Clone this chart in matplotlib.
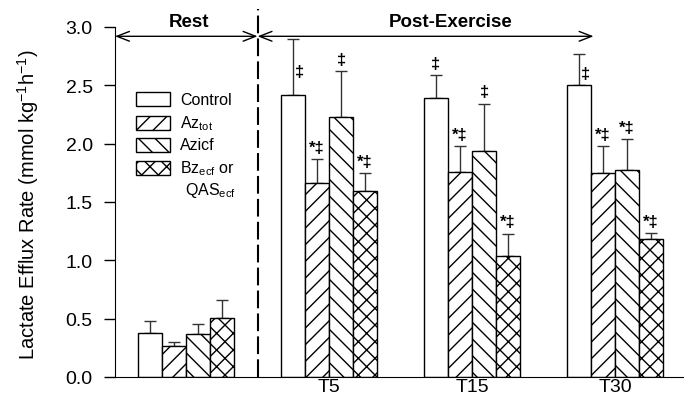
import matplotlib
matplotlib.use("Agg")
import matplotlib.pyplot as plt
from matplotlib.patches import Rectangle
import numpy as np

plt.rcParams['font.family'] = ['Liberation Sans', 'DejaVu Sans']
plt.rcParams['mathtext.fontset'] = 'custom'
plt.rcParams['mathtext.rm'] = 'Liberation Sans'
plt.rcParams['mathtext.it'] = 'Liberation Sans:italic'
plt.rcParams['mathtext.bf'] = 'Liberation Sans:bold'
plt.rcParams['hatch.linewidth'] = 1.0

# data
groups = ['', 'T5', 'T15', 'T30']          # first group is "Rest"
series_names = ['Control', 'Az$_{\\mathrm{tot}}$', 'Azicf', 'Bz$_{\\mathrm{ecf}}$ or']
control = [0.375, 2.42, 2.39, 2.505]
control_err = [0.105, 0.48, 0.20, 0.265]
az_tot = [0.265, 1.66, 1.754, 1.745]
az_tot_err = [0.035, 0.21, 0.225, 0.235]
azicf = [0.368, 2.225, 1.934, 1.77]
azicf_err = [0.09, 0.395, 0.41, 0.27]
bz_ecf = [0.508, 1.59, 1.034, 1.18]
bz_ecf_err = [0.15, 0.155, 0.195, 0.05]
marks = [
    ['', '\u2021', '\u2021', '\u2021'],
    ['', '*\u2021', '*\u2021', '*\u2021'],
    ['', '\u2021', '\u2021', '*\u2021'],
    ['', '*\u2021', '*\u2021', '*\u2021'],
]

values = [control, az_tot, azicf, bz_ecf]
errors = [control_err, az_tot_err, azicf_err, bz_ecf_err]
hatches = ['', '//', '\\\\', 'xx']

fig = plt.figure(figsize=(6.88, 4.02), dpi=100)
ax = fig.add_axes([115 / 688, 24 / 402, 568 / 688, 368 / 402])

width = 0.168
xg = np.arange(len(groups))
for i, (vals, errs, h) in enumerate(zip(values, errors, hatches)):
    xs = xg + (i - 1.5) * width
    ax.bar(xs, vals, width, color='white', edgecolor='black', linewidth=1.0,
           hatch=h, zorder=2)
    ax.errorbar(xs, vals, yerr=[np.zeros(len(errs)), errs], fmt='none',
                ecolor='#333333', elinewidth=1.0, capsize=4, capthick=1.0,
                zorder=1)
    for x, v, e, m in zip(xs, vals, errs, marks[i]):
        if not m:
            continue
        top = v + e
        if top + 0.1 > 2.8:
            # too close to the arrow: put it beside the error bar
            ax.text(x + 0.015, (v + top) / 2 - 0.04, m, ha='left',
                    va='center', fontsize=12, fontweight='bold')
        else:
            ax.text(x, top + 0.1, m, ha='center', va='center', fontsize=12,
                    fontweight='bold')

# rest / post-exercise separator and arrows
ax.plot([0.5, 0.5], [0, 3.154], color='black', lw=1.5,
        linestyle=(0, (8.5, 2.5)), clip_on=False, zorder=3)
arrow = dict(arrowstyle='<->,head_length=0.9,head_width=0.35', lw=1.0,
             color='black', shrinkA=0, shrinkB=0, mutation_scale=10)
ax.annotate('', xy=(-0.497, 2.92), xytext=(0.5, 2.92), arrowprops=arrow,
            annotation_clip=False)
ax.annotate('', xy=(0.5, 2.92), xytext=(2.85, 2.92), arrowprops=arrow,
            annotation_clip=False)
ax.text(0.02, 3.05, 'Rest', ha='center', va='center', fontsize=13.5,
        fontweight='bold')
ax.text(1.85, 3.05, 'Post-Exercise', ha='center', va='center', fontsize=13.5,
        fontweight='bold')

# hand-made legend
leg_x, leg_w, leg_h = -0.35, 0.238, 0.12
leg_rows = [2.32, 2.12, 1.93, 1.73]
for name, h, y in zip(series_names, hatches, leg_rows):
    ax.add_patch(Rectangle((leg_x, y), leg_w, leg_h, facecolor='white',
                           edgecolor='black', lw=1.0, hatch=h, zorder=2))
    ax.text(-0.04, y + leg_h / 2, name, ha='left', va='center', fontsize=11.5)
ax.text(-0.005, 1.61, 'QAS$_{\\mathrm{ecf}}$', ha='left', va='center',
        fontsize=11.5)

ax.set_xlim(-0.497, 3.4755)
ax.set_ylim(0, 3.154)
ax.set_yticks(np.arange(0, 3.01, 0.5))
ax.set_yticklabels(['%.1f' % t for t in np.arange(0, 3.01, 0.5)])
ax.set_xticks(xg)
ax.set_xticklabels(groups)
ax.tick_params(axis='y', length=8, width=1, pad=8, labelsize=14)
ax.tick_params(axis='x', length=0, pad=1, labelsize=14)
ax.spines['top'].set_visible(False)
ax.spines['right'].set_visible(False)
ax.spines['left'].set_bounds(0, 3)
ax.set_ylabel('Lactate Efflux Rate (mmol kg$^{-1}$h$^{-1}$)', fontsize=14.5)
ax.yaxis.set_label_coords(-0.13, 0.47)

fig.savefig('out.png', dpi=100)
